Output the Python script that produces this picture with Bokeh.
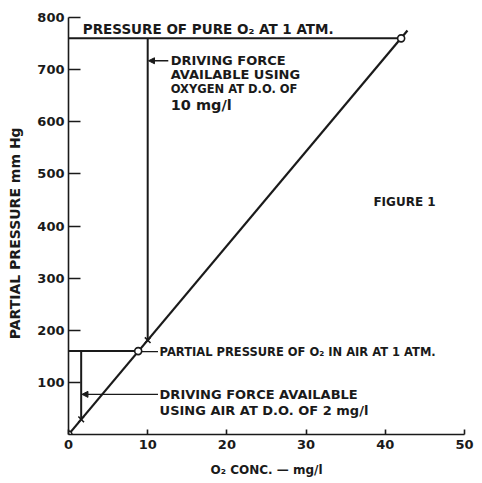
from bokeh.plotting import figure
from bokeh.models import FixedTicker, Arrow, NormalHead, Label
from bokeh.embed import file_html
from bokeh.resources import INLINE

# ---- data ----
henry_x = [0, 42.8]          # saturation line, O2 conc (mg/l)
henry_y = [0, 775]           # partial pressure (mm Hg)
sat_x = [0, 8.8, 42.0]       # open-circle points on the line
sat_y = [0, 160, 760]
pure_o2_p = 760              # pressure of pure O2 at 1 atm
air_o2_p = 160               # partial pressure of O2 in air
oxy_do = 10                  # D.O. with oxygen (mg/l)
oxy_do_p = 181
air_do = 1.6                 # D.O. with air (mg/l)
air_do_p = 29
x_ticks = [0, 10, 20, 30, 40, 50]
y_ticks = [100, 200, 300, 400, 500, 600, 700, 800]

FONT = "DejaVu Sans"
INK = "#1a1a1a"

p = figure(width=480, height=482, x_range=(0, 50), y_range=(0, 800),
           output_backend="svg", toolbar_location=None,
           min_border_left=68, min_border_right=16, min_border_top=17, min_border_bottom=48)
p.outline_line_color = None
p.xgrid.visible = False
p.ygrid.visible = False
p.background_fill_color = "white"

p.xaxis.ticker = FixedTicker(ticks=x_ticks)
p.yaxis.ticker = FixedTicker(ticks=y_ticks)
for ax in (p.xaxis, p.yaxis):
    ax.axis_line_color = INK
    ax.axis_line_width = 1.6
    ax.major_tick_line_color = INK
    ax.major_tick_line_width = 1.6
    ax.minor_tick_line_color = None
    ax.major_tick_out = 0
    ax.major_label_text_font = FONT
    ax.major_label_text_font_style = "bold"
    ax.major_label_text_font_size = "13px"
    ax.major_label_text_color = INK
    ax.axis_label_text_font = FONT
    ax.axis_label_text_font_style = "bold"
    ax.axis_label_text_color = INK
p.yaxis.major_tick_in = 12
p.xaxis.major_tick_in = 5
p.xaxis.major_label_standoff = 5
p.yaxis.major_label_standoff = 4
p.xaxis.axis_label = "O₂ CONC. — mg/l"
p.yaxis.axis_label = "PARTIAL  PRESSURE   mm Hg"
p.xaxis.axis_label_text_font_size = "12px"
p.yaxis.axis_label_text_font_size = "14px"
p.xaxis.axis_label_standoff = 11
p.yaxis.axis_label_standoff = 11

# saturation line
p.line(henry_x, henry_y, line_color=INK, line_width=2.2)
# pure O2 horizontal and oxygen driving force vertical
p.line([0, sat_x[2]], [pure_o2_p, pure_o2_p], line_color=INK, line_width=2)
p.line([oxy_do, oxy_do], [pure_o2_p, oxy_do_p], line_color=INK, line_width=2)
# air horizontal and air driving force vertical
p.line([0, sat_x[1]], [air_o2_p, air_o2_p], line_color=INK, line_width=2)
p.line([air_do, air_do], [air_o2_p, air_do_p], line_color=INK, line_width=2)

p.scatter(sat_x, sat_y, marker="circle", size=7, fill_color="white",
          line_color=INK, line_width=1.6)
p.scatter([oxy_do, air_do], [oxy_do_p, air_do_p], marker="x", size=8,
          line_color=INK, line_width=1.6)

# leaders
def arrow(x0, y0, x1, y1):
    p.add_layout(Arrow(end=NormalHead(size=6, fill_color=INK, line_color=INK),
                       x_start=x0, y_start=y0, x_end=x1, y_end=y1,
                       line_color=INK, line_width=1.4))

arrow(12.6, 717, oxy_do + 0.1, 717)
arrow(11.3, 77, air_do + 0.1, 77)
p.line([sat_x[1] + 0.4, 11.3], [air_o2_p - 1, air_o2_p - 1], line_color=INK, line_width=1.4)

def lab(x, y, t, size="12px"):
    p.add_layout(Label(x=x, y=y, text=t, text_font=FONT, text_font_style="bold",
                       text_font_size=size, text_color=INK, text_baseline="middle"))

lab(1.8, 777, "PRESSURE OF PURE O₂ AT 1 ATM.", "13.5px")
lab(12.9, 717, "DRIVING FORCE", "13px")
lab(12.9, 690, "AVAILABLE USING", "13px")
lab(12.9, 662, "OXYGEN AT D.O. OF", "11.5px")
lab(12.9, 633, "10 mg/l", "14.5px")
lab(11.5, 158, "PARTIAL PRESSURE OF O₂ IN AIR AT 1 ATM.", "11.5px")
lab(11.5, 77, "DRIVING FORCE AVAILABLE", "13px")
lab(11.5, 47, "USING AIR AT D.O. OF 2 mg/l", "13px")
lab(38.5, 446, "FIGURE  1", "12px")

open("out.html", "w").write(file_html(p, INLINE))
